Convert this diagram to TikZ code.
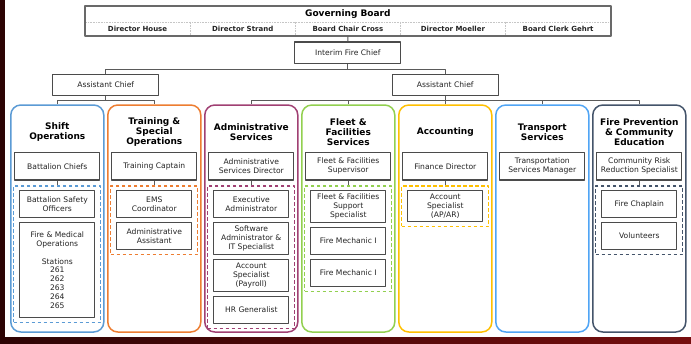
\documentclass[tikz,border=0pt]{standalone}
\usepackage{fontspec}
\setmainfont{DejaVu Sans}
\usetikzlibrary{fit}

\definecolor{linegray}{RGB}{90,90,90}
\definecolor{boxgray}{RGB}{75,75,75}
\definecolor{textgray}{RGB}{35,35,35}
\definecolor{framegray}{RGB}{105,105,105}
\definecolor{shiftblue}{RGB}{91,155,213}
\definecolor{trainorange}{RGB}{237,125,49}
\definecolor{adminplum}{RGB}{160,64,115}
\definecolor{fleetgreen}{RGB}{146,208,80}
\definecolor{accgold}{RGB}{255,192,0}
\definecolor{transblue}{RGB}{80,165,245}
\definecolor{prevslate}{RGB}{68,84,106}
\definecolor{edgedark}{RGB}{45,4,4}
\definecolor{edgered}{RGB}{118,14,14}

\begin{document}
\begin{tikzpicture}[x=1pt, y=-1pt, line join=round,
    txt/.style={font=\fontsize{7.6}{8.8}\selectfont, text=textgray, align=center},
    box/.style={txt, draw=boxgray, line width=1.25pt, fill=white, inner xsep=2pt, inner ysep=3.5pt},
    staff/.style={box, minimum width=75pt, minimum height=27pt, anchor=north},
    head/.style={box, minimum width=85pt, minimum height=27.3pt},
    chief/.style={box, minimum width=106pt, minimum height=21.5pt},
    dept/.style={draw=#1, line width=1.5pt, rounded corners=10pt, minimum width=93pt, minimum height=227pt},
    grp/.style={draw=#1, line width=1.1pt, dash pattern=on 3.5pt off 2.5pt, inner xsep=5.5pt, inner ysep=4pt},
    title/.style={font=\bfseries\fontsize{9}{10.3}\selectfont, align=center},
    director/.style={font=\bfseries\fontsize{7}{8}\selectfont, text=textgray, minimum width=105.14pt, minimum height=14pt, inner sep=0pt},
    sep/.style={draw=gray!45, densely dotted, line width=0.6pt},
    link/.style={draw=linegray, line width=1pt}]
    % Page and edges
    \useasboundingbox (0,0) rectangle (691,343);
    \fill[white] (0,0) rectangle (691,343);
    \fill[edgedark] (0,0) rectangle (5,343);
    \shade[left color=edgedark, right color=edgered] (0,337) rectangle (691,343);
    % Board
    \node[title, minimum width=525.7pt, minimum height=15.7pt, inner sep=0pt] (board) at (347.85,13.85) {Governing Board};
    \foreach \k/\d in {1/Director House, 2/Director Strand, 3/Board Chair Cross, 4/Director Moeller, 5/Board Clerk Gehrt}
    \node[director] (dir\k) at ({85+105.14*(\k-0.5)},28.7) {\d};
    \draw[sep] (board.south west) -- (board.south east);
    \foreach \k in {1,...,4}
    \draw[sep] (dir\k.north east) -- (dir\k.south east);
    \draw[draw=framegray, line width=1.8pt] (board.north west) rectangle (dir5.south east);
    % Chiefs
    \node[chief] (chief) at (347.85,52.8) {Interim Fire Chief};
    \node[chief] (asst1) at (105.8,84.9) {Assistant Chief};
    \node[chief] (asst2) at (445.3,84.9) {Assistant Chief};
    \draw[link] (dir3.south) -- (chief.north);
    \draw[link] (chief.south) -- ++(0,5) coordinate (b0);
    \draw[link] (asst1.north) |- (b0) -| (asst2.north);
    % Departments
    \foreach \i/\col/\nm/\ttl/\hd in {
        0/shiftblue/sh/{Shift\\Operations}/{Battalion Chiefs},
        1/trainorange/tr/{Training \&\\Special\\Operations}/{Training Captain},
        2/adminplum/ad/{Administrative\\Services}/{Administrative\\Services Director},
        3/fleetgreen/fl/{Fleet \&\\Facilities\\Services}/{Fleet \& Facilities\\Supervisor},
        4/accgold/ac/{Accounting}/{Finance Director},
        5/transblue/tp/{Transport\\Services}/{Transportation\\Services Manager},
        6/prevslate/fp/{Fire Prevention\\\& Community\\Education}/{Community Risk\\Reduction Specialist}}{
        \node[dept=\col] (\nm) at ({57.3+97*\i},218.5) {};
        \node[title] (\nm-t) at ({57.3+97*\i},132) {\ttl};
        \node[head] (\nm-h) at ({57.3+97*\i},166.3) {\hd};
    }
    % Staff
    \foreach \nm/\i/\y/\ttl in {
        sh1/0/190/{Battalion Safety\\Officers},
        tr1/1/190/{EMS\\Coordinator}, tr2/1/222/{Administrative\\Assistant},
        ad1/2/190/{Executive\\Administrator}, ad2/2/222/{Software\\Administrator \&\\IT Specialist},
        ad3/2/259/{Account\\Specialist\\(Payroll)}, ad4/2/296/{HR Generalist},
        fl1/3/190/{Fleet \& Facilities\\Support\\Specialist}, fl2/3/227/{Fire Mechanic I}, fl3/3/259/{Fire Mechanic I},
        ac1/4/190/{Account\\Specialist\\(AP/AR)},
        fp1/6/190/{Fire Chaplain}, fp2/6/222/{Volunteers}}
    \node[staff] (\nm) at ({57.3+97*\i},\y) {\ttl};
    \node[staff, minimum height=95pt] (sh2) at (57.3,222) {Fire \& Medical\\Operations\\[8.8pt]Stations\\261\\262\\263\\264\\265};
    % Dashed groups
    \node[grp=shiftblue, fit=(sh1)(sh2)] (sh-g) {};
    \node[grp=trainorange, fit=(tr1)(tr2)] (tr-g) {};
    \node[grp=adminplum, fit=(ad1)(ad4)] (ad-g) {};
    \node[grp=fleetgreen, fit=(fl1)(fl3)] (fl-g) {};
    \node[grp=accgold, fit=(ac1)] (ac-g) {};
    \node[grp=prevslate, fit=(fp1)(fp2)] (fp-g) {};
    \foreach \nm in {sh,tr,ad,fl,ac,fp}
    \draw[link] (\nm-h.south) -- (\nm-g.north);
    % Links to departments
    \draw[link] (asst1.south) -- ++(0,4.6) coordinate (b1);
    \draw[link] (sh.north) |- (b1) -| (tr.north);
    \draw[link] (asst2.south) -- ++(0,4.6) coordinate (b2);
    \draw[link] (ad.north) |- (b2) -| (fp.north);
    \foreach \nm in {fl,ac,tp}
    \draw[link] (\nm.north) -- (\nm.north |- b2);
\end{tikzpicture}
\end{document}
